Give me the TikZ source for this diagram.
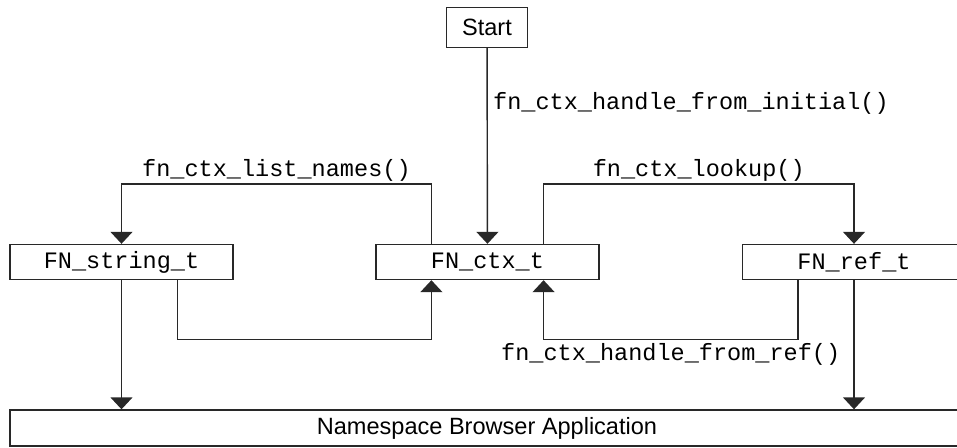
\documentclass[tikz,border=0pt]{standalone}
\usepackage{fontspec}
\setmainfont{Liberation Sans}
\setsansfont{Liberation Sans}
\setmonofont{Liberation Mono}
\usepackage{tikz}
\usetikzlibrary{arrows.meta,positioning,calc}
\definecolor{linegray}{RGB}{40,40,40}

\begin{document}
\begin{tikzpicture}[x=0.02cm, y=-0.02cm, every node/.style={font=\fontsize{13.4}{16}\selectfont}, box/.style={draw=linegray, line width=0.8pt, align=center, inner sep=0pt, minimum width=4.46cm, minimum height=0.7cm, font=\fontsize{13.4}{16}\selectfont\ttfamily}, sbox/.style={draw=linegray, line width=0.8pt, inner sep=0pt, minimum width=1.62cm, minimum height=0.8cm}, arr/.style={-{Triangle[width=0.44cm, length=0.24cm]}, line width=0.8pt, draw=linegray}, lbl/.style={font=\fontsize{13.4}{16}\selectfont\ttfamily, inner sep=3pt}]
\clip (0,0) rectangle (957,447);
\node[sbox] (start) at (487,27.5) {Start};
\node[box] (ctx) at (487.5,262) {FN\_ctx\_t};
\node[box] (str) at (121.5,262) {FN\_string\_t};
\node[box] (ref) at (854,262) {FN\_ref\_t};
\node[box, minimum width=19.08cm, minimum height=0.72cm, font=\fontsize{13.4}{16}\selectfont\sffamily] (app) at (487,428) {Namespace Browser Application};
\draw[arr] (start) -- node[lbl, right, pos=0.28]{fn\_ctx\_handle\_from\_initial()} (ctx);
% calls leaving the context at its quarter points
\draw[arr] ($(ctx.north west)!.25!(ctx.north east)$) -- ++(0,-60) -| node[lbl, above, inner sep=1pt, pos=0.25]{fn\_ctx\_list\_names()} (str.north);
\draw[arr] ($(ctx.north west)!.75!(ctx.north east)$) -- ++(0,-60) -| node[lbl, above, inner sep=1pt, pos=0.25]{fn\_ctx\_lookup()} (ref.north);
\draw[arr] ($(str.south west)!.75!(str.south east)$) -- ++(0,59) -| ($(ctx.south west)!.25!(ctx.south east)$);
\draw[arr] ($(ref.south west)!.25!(ref.south east)$) -- ++(0,59) -| node[lbl, below, inner sep=2pt, pos=0.25]{fn\_ctx\_handle\_from\_ref()} ($(ctx.south west)!.75!(ctx.south east)$);
\draw[arr] (str.south) -- (str.south |- app.north);
\draw[arr] (ref.south) -- (ref.south |- app.north);
\end{tikzpicture}
\end{document}
